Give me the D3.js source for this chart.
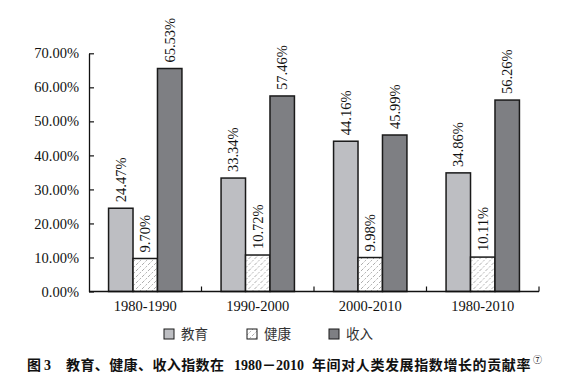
<!DOCTYPE html>
<html><head><meta charset="utf-8">
<script src="https://cdn.jsdelivr.net/npm/d3@7"></script>
<style>
html,body{margin:0;padding:0;background:#fff;}
svg{display:block;}
</style></head>
<body>
<svg id="c" width="572" height="380"></svg>
<script>
const categories = ["1980-1990", "1990-2000", "2000-2010", "1980-2010"];
const seriesNames = ["教育", "健康", "收入"];
const education = [24.47, 33.34, 44.16, 34.86];
const health = [9.70, 10.72, 9.98, 10.11];
const income = [65.53, 57.46, 45.99, 56.26];
const yTicks = [0, 10, 20, 30, 40, 50, 60, 70];
const titleParts = ["图", "3", "教育、健康、收入指数在", "1980－2010", "年间对人类发展指数增长的贡献率", "⑦"];

const serif = "'Liberation Serif','Times New Roman','Noto Sans CJK SC',serif";
const cjk = "'Liberation Serif','Noto Sans CJK SC',serif";
const cjkSans = "'Noto Sans CJK SC','Liberation Serif',sans-serif";
const fills = ["#bdbec2", "url(#hatch)", "#7e7f83"];
const seriesValues = [education, health, income];

const svg = d3.select("#c");
const defs = svg.append("defs");
const pat = defs.append("pattern").attr("id", "hatch")
  .attr("patternUnits", "userSpaceOnUse").attr("width", 6).attr("height", 6);
pat.append("rect").attr("width", 6).attr("height", 6).attr("fill", "#fff");
pat.append("line").attr("x1", 0).attr("y1", 6).attr("x2", 6).attr("y2", 0)
  .attr("stroke", "#8a8a8a").attr("stroke-width", 0.7).attr("stroke-dasharray", "2,1.5");

const pLeft = 89, pRight = 539, pTop = 53.3, pBottom = 291.5;
const x0 = d3.scaleBand().domain(categories).range([pLeft, pRight]).paddingInner(0).paddingOuter(0);
const x1 = d3.scaleBand().domain(seriesNames).range([0, x0.bandwidth()]).paddingOuter(0.8).paddingInner(0);
const y = d3.scaleLinear().domain([0, 70]).range([pBottom, pTop]);

// y axis
const yAxis = d3.axisLeft(y).tickValues(yTicks).tickSizeInner(-5).tickSizeOuter(0)
  .tickPadding(10).tickFormat(d => d.toFixed(2) + "%");
const gy = svg.append("g").attr("transform", `translate(${pLeft},0)`).call(yAxis);
gy.select(".domain").attr("stroke", "#111").attr("stroke-width", 1.3);
gy.selectAll(".tick line").attr("stroke", "#111").attr("stroke-width", 1.2);
gy.selectAll(".tick text").attr("font-family", serif).attr("font-size", 14.5).attr("fill", "#111");

// bars
const groups = svg.append("g").selectAll("g").data(categories).join("g")
  .attr("transform", d => `translate(${x0(d)},0)`);
groups.each(function (cat, ci) {
  const g = d3.select(this);
  seriesNames.forEach((s, si) => {
    const v = seriesValues[si][ci];
    g.append("rect")
      .attr("x", x1(s)).attr("y", y(v))
      .attr("width", x1.bandwidth()).attr("height", y(0) - y(v))
      .attr("fill", fills[si]).attr("stroke", "#1a1a1a").attr("stroke-width", 1.5);
    const cx = x1(s) + x1.bandwidth() / 2;
    g.append("text")
      .attr("transform", `translate(${cx},${y(v) - 6}) rotate(-90)`)
      .attr("dy", "0.35em")
      .attr("font-family", serif).attr("font-size", 14.5).attr("fill", "#111")
      .text(v.toFixed(2) + "%");
  });
});

// x axis
const xAxis = d3.axisBottom(x0).tickSize(0).tickPadding(9);
const gx = svg.append("g").attr("transform", `translate(0,${pBottom})`).call(xAxis);
gx.select(".domain").remove();
gx.selectAll(".tick text").attr("font-family", serif).attr("font-size", 14.5).attr("fill", "#111");
svg.append("line").attr("x1", pLeft).attr("x2", pRight).attr("y1", pBottom).attr("y2", pBottom)
  .attr("stroke", "#111").attr("stroke-width", 1.3);
svg.append("g").selectAll("line").data(categories).join("line")
  .attr("x1", d => x0(d) + x0.bandwidth()).attr("x2", d => x0(d) + x0.bandwidth())
  .attr("y1", pBottom).attr("y2", pBottom - 5)
  .attr("stroke", "#111").attr("stroke-width", 1.2);

// legend
const legX = [164, 247, 329];
const leg = svg.append("g").selectAll("g").data(seriesNames).join("g")
  .attr("transform", (d, i) => `translate(${legX[i]},329)`);
leg.append("rect").attr("width", 10).attr("height", 10)
  .attr("fill", (d, i) => fills[i]).attr("stroke", "#1a1a1a").attr("stroke-width", 1);
leg.append("text").attr("x", 17).attr("y", 5).attr("dy", "0.36em")
  .attr("font-family", cjk).attr("font-size", 13.5).attr("fill", "#333").text(d => d);

// title
const tg = svg.append("g").attr("font-weight", "bold").attr("fill", "#111").attr("font-size", 14);
const tb = 370;
tg.append("text").attr("x", 27).attr("y", tb).attr("font-family", cjkSans).text(titleParts[0]);
tg.append("text").attr("x", 44).attr("y", tb).attr("font-family", serif).text(titleParts[1]);
tg.append("text").attr("x", 66).attr("y", tb).attr("font-family", cjkSans)
  .attr("letter-spacing", 0.4).text(titleParts[2]);
tg.append("text").attr("x", 234).attr("y", tb).attr("font-family", serif).text(titleParts[3]);
tg.append("text").attr("x", 312).attr("y", tb).attr("font-family", cjkSans)
  .attr("letter-spacing", 0.6).text(titleParts[4]);
tg.append("text").attr("x", 533).attr("y", tb - 7).attr("font-size", 9).attr("font-weight", "normal")
  .attr("font-family", cjkSans).text(titleParts[5]);
</script>
</body></html>
